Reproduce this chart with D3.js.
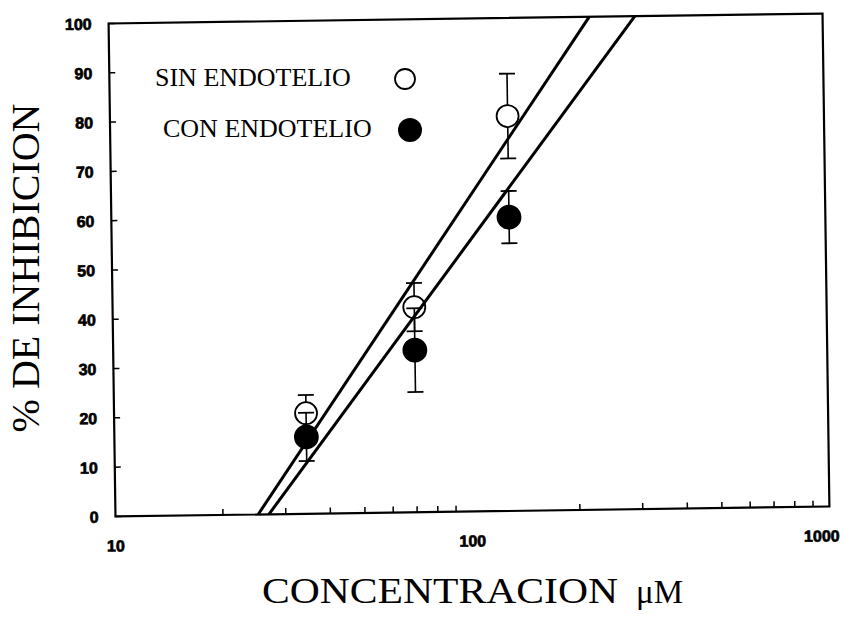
<!DOCTYPE html>
<html>
<head>
<meta charset="utf-8">
<script src="https://cdn.jsdelivr.net/npm/d3@7"></script>
<style>
  body { margin: 0; background: #fff; }
  .tick-label { font-family: "Liberation Sans", Arial, sans-serif; font-weight: bold; font-size: 16px; fill: #000; stroke: #000; stroke-width: 0.7px; }
  .serif { font-family: "Liberation Serif", "Times New Roman", serif; fill: #000; }
</style>
</head>
<body>
<div id="viz"></div>
<script>
// concentrations (uM)
var conc = [34.5, 70, 130];
// % inhibition, sin endotelio (open) and con endotelio (filled)
var sinMean = [20.4, 41.6, 80.1];
var sinErr  = [3.7, 4.9, 8.6];
var conMean = [15.6, 32.9, 59.6];
var conErr  = [4.9, 8.5, 5.3];
// fitted lines, endpoints [conc, %]
var sinFit = [[25.1, 0], [222, 100]];
var conFit = [[26.9, 0], [298, 100]];
var yTicks = [0, 10, 20, 30, 40, 50, 60, 70, 80, 90, 100];
var xMajor = [10, 100, 1000];
var xMinor = [20, 30, 40, 50, 60, 70, 80, 90, 200, 300, 400, 500, 600, 700, 800, 900];

var W = 844, H = 619;
var plot = { left: 112, right: 826, top: 18.5, bottom: 511.5 },
    cx = (plot.left + plot.right) / 2,
    cy = (plot.top + plot.bottom) / 2,
    tilt = -0.8;   // the scan is slightly rotated

var svg = d3.select("#viz")
    .append("svg")
    .attr("width", W)
    .attr("height", H);

var g = svg.append("g")
    .attr("transform", "rotate(" + tilt + "," + cx + "," + cy + ")");

var x = d3.scaleLog().domain([10, 1000]).range([plot.left, plot.right]);
var y = d3.scaleLinear().domain([0, 100]).range([plot.bottom, plot.top]);

/* frame */
g.append("rect")
    .attr("x", plot.left)
    .attr("y", plot.top)
    .attr("width", plot.right - plot.left)
    .attr("height", plot.bottom - plot.top)
    .attr("fill", "none")
    .attr("stroke", "#000")
    .attr("stroke-width", 2.2);

/* y ticks */
g.selectAll(".ytick").data(yTicks).enter()
    .append("line")
    .attr("x1", plot.left)
    .attr("x2", plot.left + 6)
    .attr("y1", function(d) { return y(d); })
    .attr("y2", function(d) { return y(d); })
    .attr("stroke", "#000")
    .attr("stroke-width", 1.5);

g.selectAll(".ylab").data(yTicks).enter()
    .append("text")
    .attr("class", "tick-label")
    .attr("x", plot.left - 17)
    .attr("y", function(d) { return y(d) + 6; })
    .attr("text-anchor", "end")
    .text(function(d) { return d; });

/* x ticks */
g.selectAll(".xminor").data(xMinor).enter()
    .append("line")
    .attr("x1", function(d) { return x(d); })
    .attr("x2", function(d) { return x(d); })
    .attr("y1", plot.bottom)
    .attr("y2", plot.bottom - 6)
    .attr("stroke", "#000")
    .attr("stroke-width", 1.5);

g.selectAll(".xlab").data(xMajor).enter()
    .append("text")
    .attr("class", "tick-label")
    .attr("x", function(d, i) { return x(d) - (i == 2 ? 8 : 0); })
    .attr("y", plot.bottom + 35)
    .attr("text-anchor", "middle")
    .text(function(d) { return d; });

/* fitted lines */
var line = d3.line()
    .x(function(d) { return x(d[0]); })
    .y(function(d) { return y(d[1]); });

g.selectAll(".fit").data([sinFit, conFit]).enter()
    .append("path")
    .attr("d", line)
    .attr("fill", "none")
    .attr("stroke", "#000")
    .attr("stroke-width", 3);

/* points with error bars */
function series(means, errs, r, filled) {
  var pts = conc.map(function(c, i) { return { c: c, m: means[i], e: errs[i] }; });
  var capW = 8;
  pts.forEach(function(p) {
    var px = x(p.c), top = y(p.m + p.e), bot = y(p.m - p.e), mid = y(p.m);
    g.append("line").attr("x1", px).attr("x2", px).attr("y1", mid - r).attr("y2", top)
        .attr("stroke", "#000").attr("stroke-width", 1.6);
    g.append("line").attr("x1", px).attr("x2", px).attr("y1", mid + r).attr("y2", bot)
        .attr("stroke", "#000").attr("stroke-width", 1.6);
    g.append("line").attr("x1", px - capW).attr("x2", px + capW).attr("y1", top).attr("y2", top)
        .attr("stroke", "#000").attr("stroke-width", 1.8);
    g.append("line").attr("x1", px - capW).attr("x2", px + capW).attr("y1", bot).attr("y2", bot)
        .attr("stroke", "#000").attr("stroke-width", 1.8);
  });
  g.selectAll(null).data(pts).enter()
    .append("circle")
    .attr("cx", function(d) { return x(d.c); })
    .attr("cy", function(d) { return y(d.m); })
    .attr("r", r)
    .attr("fill", filled ? "#000" : "none")
    .attr("stroke", "#000")
    .attr("stroke-width", 1.8);
}
series(sinMean, sinErr, 11, false);
series(conMean, conErr, 11.5, true);

/* legend */
svg.append("text").attr("class", "serif")
    .attr("x", 155).attr("y", 86)
    .style("font-size", "26px")
    .text("SIN ENDOTELIO");
svg.append("circle")
    .attr("cx", 405).attr("cy", 79).attr("r", 10)
    .attr("fill", "none").attr("stroke", "#000").attr("stroke-width", 1.8);
svg.append("text").attr("class", "serif")
    .attr("x", 163).attr("y", 137)
    .style("font-size", "26px")
    .text("CON ENDOTELIO");
svg.append("circle")
    .attr("cx", 410).attr("cy", 130).attr("r", 12)
    .attr("fill", "#000");

/* axis titles */
svg.append("text").attr("class", "serif")
    .attr("transform", "translate(39,268) rotate(-90)")
    .attr("text-anchor", "middle")
    .style("font-size", "40px")
    .text("% DE INHIBICION");

svg.append("text").attr("class", "serif")
    .attr("x", 262).attr("y", 603)
    .attr("textLength", 356)
    .attr("lengthAdjust", "spacingAndGlyphs")
    .style("font-size", "35px")
    .text("CONCENTRACION");
svg.append("text").attr("class", "serif")
    .attr("x", 636).attr("y", 603)
    .style("font-size", "33px")
    .text("μM");
</script>
</body>
</html>
